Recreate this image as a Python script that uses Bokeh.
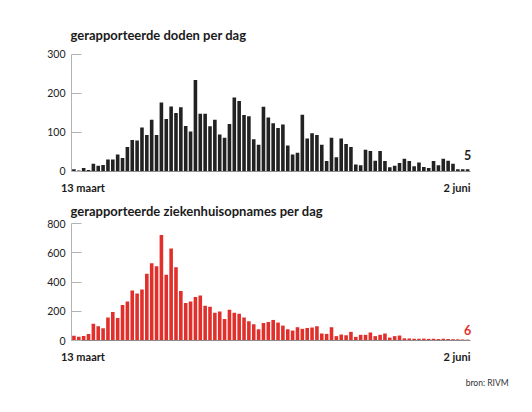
from bokeh.plotting import figure
from bokeh.layouts import column
from bokeh.models import Range1d, FixedTicker, Label, ColumnDataSource, LinearAxis
from bokeh.embed import file_html
from bokeh.resources import INLINE

# ---- data ----
x_labels = ["13 maart", "2 juni"]
deaths = [5, 2, 8, 3, 19, 14, 16, 30, 30, 43,
          34, 62, 80, 79, 112, 93, 132, 93, 176, 134,
          166, 149, 164, 116, 102, 234, 147, 147, 115, 132,
          94, 86, 121, 189, 180, 144, 141, 82, 68, 165,
          138, 123, 111, 120, 66, 43, 47, 145, 84, 97,
          93, 68, 26, 86, 36, 84, 70, 62, 17, 15,
          55, 52, 27, 52, 26, 10, 14, 21, 32, 26,
          13, 22, 11, 8, 26, 15, 32, 27, 19, 5,
          5, 5]
hospital = [32, 25, 30, 45, 114, 98, 84, 157, 195, 155,
            243, 268, 343, 323, 350, 457, 530, 509, 723, 450,
            630, 502, 339, 257, 268, 298, 309, 239, 232, 191,
            198, 148, 211, 191, 184, 157, 132, 111, 77, 120,
            127, 141, 123, 102, 77, 68, 91, 80, 86, 89,
            98, 48, 45, 91, 30, 41, 36, 59, 25, 39,
            39, 55, 30, 39, 48, 20, 30, 34, 15, 14,
            12, 12, 13, 11, 12, 10, 12, 10, 9, 8,
            7, 6]
titles = ["gerapporteerde doden per dag", "gerapporteerde ziekenhuisopnames per dag"]
y_ticks_top = [0, 100, 200, 300]
y_ticks_bottom = [0, 200, 400, 600, 800]
source_text = "bron: RIVM"

FONT = "Lato"
n = len(deaths)
days = list(range(n))

# ---- layout (pixels) ----
W = 530
AX_L, AX_R = 71.0, 469.5    # where the value axis / baseline span, px
xs = (AX_R - AX_L) / n
x_start = -0.5 - AX_L / xs
x_end = n - 0.5 + (W - AX_R) / xs


def make_panel(values, color, title, yticks, height, fig_top, px_top, px_zero,
               title_offset, val_offset, with_source):
    frame_bot = fig_top + height
    ys = (px_zero - px_top) / (yticks[-1] - yticks[0])
    y_end = yticks[-1] + (px_top - fig_top) / ys
    y_start = yticks[0] - (frame_bot - px_zero) / ys
    p = figure(width=W, height=height, output_backend="svg", toolbar_location=None,
               x_range=Range1d(x_start, x_end), y_range=Range1d(y_start, y_end),
               x_axis_type=None, y_axis_type=None,
               min_border_left=0, min_border_right=0, min_border_top=0,
               min_border_bottom=0, outline_line_color=None)
    src = ColumnDataSource(dict(x=days, top=values))
    p.vbar(x="x", top="top", width=0.74, bottom=0, source=src,
           fill_color=color, line_color=None)
    p.xgrid.visible = False
    p.ygrid.visible = False
    ya = LinearAxis(ticker=FixedTicker(ticks=yticks), fixed_location=-0.5,
                    bounds=(yticks[0], yticks[-1]))
    ya.axis_line_color = "#b3b3b3"
    ya.major_tick_line_color = "#b3b3b3"
    ya.major_tick_in = 10
    ya.major_tick_out = 0
    ya.minor_tick_line_color = None
    ya.major_label_standoff = 6
    ya.major_label_text_font = FONT
    ya.major_label_text_font_size = "10.5px"
    ya.major_label_text_color = "#222222"
    p.add_layout(ya, "left")
    xa = LinearAxis(ticker=FixedTicker(ticks=[]), fixed_location=0, bounds=(-0.5, n - 0.5))
    xa.axis_line_color = "#8c8c8c"
    xa.major_tick_line_color = None
    xa.minor_tick_line_color = None
    xa.major_label_text_font_size = "0px"
    p.add_layout(xa, "below")
    # title
    p.add_layout(Label(x=-0.5, y=yticks[-1], x_offset=-1, y_offset=title_offset, text=title,
                       text_align="left", text_baseline="middle", text_font=FONT,
                       text_font_style="bold", text_font_size="13px", text_color="#1a1a1a"))
    # date labels
    p.add_layout(Label(x=days[0], y=0, x_offset=-13, y_offset=-16, text=x_labels[0],
                       text_align="left", text_baseline="middle", text_font=FONT,
                       text_font_style="bold", text_font_size="11px", text_color="#1a1a1a"))
    p.add_layout(Label(x=days[-1], y=0, x_offset=3, y_offset=-16, text=x_labels[1],
                       text_align="right", text_baseline="middle", text_font=FONT,
                       text_font_style="bold", text_font_size="11px", text_color="#1a1a1a"))
    # last value
    p.add_layout(Label(x=days[-1], y=values[-1], y_offset=val_offset, text=str(values[-1]),
                       text_align="center", text_baseline="middle", text_font=FONT,
                       text_font_style="bold", text_font_size="12.5px", text_color=color))
    if with_source:
        p.add_layout(Label(x=days[-1], y=0, x_offset=41, y_offset=-42, text=source_text,
                           text_align="right", text_baseline="middle", text_font=FONT,
                           text_font_size="8.5px", text_color="#333333"))
    return p


H1, H2 = 198, 204
p1 = make_panel(deaths, "#222222", titles[0], y_ticks_top, H1, 0, 53.7, 170.7,
                19, 14, False)
p2 = make_panel(hospital, "#e1302b", titles[1], y_ticks_bottom, H2, H1, 223.3, 340.0,
                13, 10, True)

layout = column(p1, p2, spacing=0)
open("out.html", "w").write(file_html(layout, INLINE))
